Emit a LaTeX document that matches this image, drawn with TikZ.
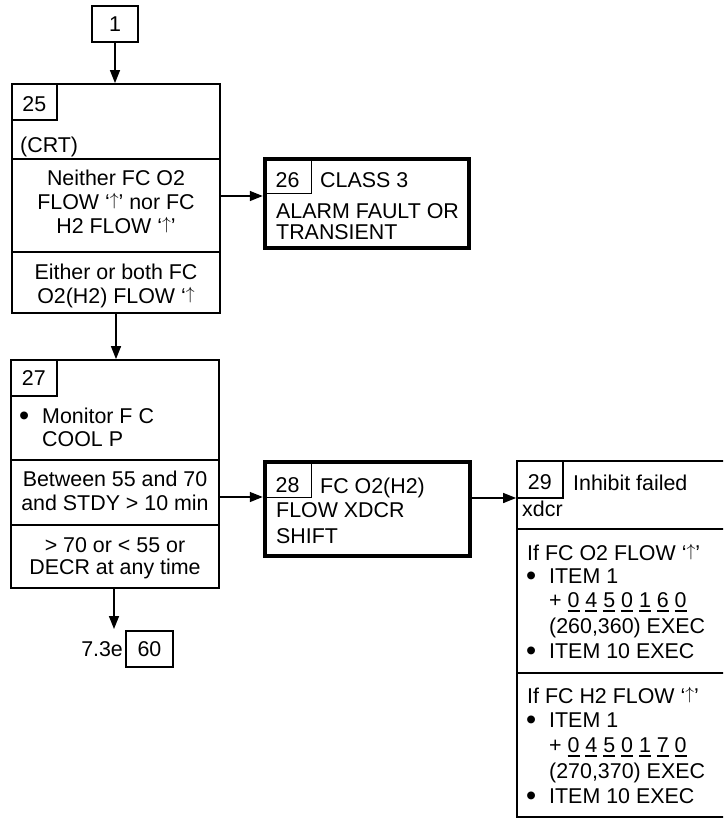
\documentclass[tikz,border=0pt]{standalone}
\usepackage{fontspec}
\setmainfont{Liberation Sans}
\usetikzlibrary{arrows.meta,positioning,calc}
\newcommand{\boxfont}{\fontsize{21.4}{22}\selectfont}
\newsavebox{\digitbox}
\newcommand{\digit}[1]{\sbox{\digitbox}{#1}\rlap{\rule[-5pt]{\wd\digitbox}{1.8pt}}\usebox{\digitbox}}
\newcommand{\uparr}{\smash{\raisebox{3.2pt}{\scalebox{0.85}{$\uparrow$}}}}
\newcommand{\flowup}{‘\uparr’}
\newcommand{\dotitem}{\raisebox{-2.7pt}{\scalebox{1.35}{•}}}

\begin{document}
\begin{tikzpicture}[x=1pt, y=-1pt,
  box/.style={draw, line width=1.8pt, inner sep=0pt, font=\boxfont},
  heavybox/.style={draw, line width=4.5pt, inner sep=0pt},
  tab/.style={draw, line width=1.5pt, inner sep=0pt, anchor=north west, font=\boxfont},
  txt/.style={inner sep=0pt, anchor=base west, font=\boxfont},
  ctxt/.style={inner sep=0pt, anchor=base, font=\boxfont},
  divider/.style={line width=1.8pt},
  arr/.style={-{Triangle[length=13pt, width=10pt]}, line width=1.5pt}
]
\path[use as bounding box, clip] (0,0) rectangle (723,819);

% entry
\node[box, minimum width=46pt, minimum height=36pt] (b1) at (115,24) {1};

% step 25
\node[box, minimum width=208pt, minimum height=229pt] (b25) at (116,198.5) {};
\node[tab, minimum width=45pt, text height=28pt, text depth=8pt] (t25) at (b25.north west) {25};
\node[txt] (crt) at (20,152) {(CRT)};
\draw[divider] (b25.west |- 0,159) -- (b25.east |- 0,159);
\draw[divider] (b25.west |- 0,252) -- (b25.east |- 0,252);
\node[ctxt] (neither1) at (116,185) {Neither FC O2};
\node[ctxt] (neither2) at (116,209) {FLOW \flowup{} nor FC};
\node[ctxt] (neither3) at (116,233) {H2 FLOW \flowup};
\node[ctxt] (either1) at (116,279) {Either or both FC};
\node[ctxt] (either2) at (116,303) {O2(H2) FLOW ‘\uparr};

% step 26
\node[heavybox, minimum width=204pt, minimum height=89pt] (b26) at (367,203.5) {};
\node[tab, minimum width=48pt, text height=30pt, text depth=6pt] (t26) at (b26.north west) {26};
\node[txt] (class) at (320,187) {CLASS 3};
\node[txt] (alarm) at (276,218) {ALARM FAULT OR};
\node[txt] (trans) at (276,239) {TRANSIENT};

% step 27
\node[box, minimum width=208pt, minimum height=228pt] (b27) at (115,474) {};
\node[tab, minimum width=46pt, text height=26pt, text depth=10pt] (t27) at (b27.north west) {27};
\node[txt] (bul27) at (19,423) {\dotitem};
\node[txt] (mon1) at (42,423) {Monitor F C};
\node[txt] (mon2) at (42,446) {COOL P};
\draw[divider] (b27.west |- 0,460) -- (b27.east |- 0,460);
\draw[divider] (b27.west |- 0,525) -- (b27.east |- 0,525);
\node[ctxt] (betw1) at (115,486) {Between 55 and 70};
\node[ctxt] (betw2) at (115,510) {and STDY > 10 min};
\node[ctxt] (out1) at (115,552) {> 70 or < 55 or};
\node[ctxt] (out2) at (115,574) {DECR at any time};

% step 28
\node[heavybox, minimum width=205pt, minimum height=94pt] (b28) at (367.5,509) {};
\node[tab, minimum width=48pt, text height=32pt, text depth=5pt] (t28) at (b28.north west) {28};
\node[txt] (fc) at (320,493) {FC O2(H2)};
\node[txt] (xdcr) at (276,517) {FLOW XDCR};
\node[txt] (shift) at (276,543) {SHIFT};

% step 29
\node[box, minimum width=240pt, minimum height=356pt] (b29) at (637,639) {};
\node[tab, minimum width=46pt, text height=29pt, text depth=8pt] (t29) at (b29.north west) {29};
\node[txt] (inhibit) at (573,490) {Inhibit failed};
\node[txt] (inhibit2) at (522,516) {xdcr};
\draw[divider] (b29.west |- 0,529) -- (b29.east |- 0,529);
\draw[divider] (b29.west |- 0,673) -- (b29.east |- 0,673);
\node[txt] (oxif) at (527,560) {If FC O2 FLOW \flowup};
\node[txt] (oxbul1) at (526,583) {\dotitem};
\node[txt] (oxitem) at (549,583) {ITEM 1};
\node[txt] (oxcode) at (549,607) {+ \digit{0} \digit{4} \digit{5} \digit{0} \digit{1} \digit{6} \digit{0}};
\node[txt] (oxexec) at (549,633) {(260,360) EXEC};
\node[txt] (oxbul2) at (526,658) {\dotitem};
\node[txt] (oxitem10) at (549,658) {ITEM 10 EXEC};
\node[txt] (hyif) at (527,703) {If FC H2 FLOW \flowup};
\node[txt] (hybul1) at (526,727) {\dotitem};
\node[txt] (hyitem) at (549,727) {ITEM 1};
\node[txt] (hycode) at (549,752) {+ \digit{0} \digit{4} \digit{5} \digit{0} \digit{1} \digit{7} \digit{0}};
\node[txt] (hyexec) at (549,778) {(270,370) EXEC};
\node[txt] (hybul2) at (526,803) {\dotitem};
\node[txt] (hyitem10) at (549,803) {ITEM 10 EXEC};

% exit
\node[box, minimum width=47pt, minimum height=36pt] (b60) at (149.5,649) {60};
\node[txt, anchor=base east] (sec) at ([xshift=-2pt]b60.base west) {7.3e};
\coordinate (c60) at (114,629);

% connectors
\draw[arr] (b1.south) -- (b1.south |- b25.north);
\draw[arr] (b25.east |- 0,196) -- (b26.west |- 0,196);
\draw[arr] (b25.south) -- (b25.south |- b27.north);
\draw[arr] (b27.east |- 0,497) -- (b28.west |- 0,497);
\draw[arr] (b28.east |- 0,498) -- (b29.west |- 0,498);
\draw[arr] (b27.south -| c60) -- (c60);
\end{tikzpicture}
\end{document}
